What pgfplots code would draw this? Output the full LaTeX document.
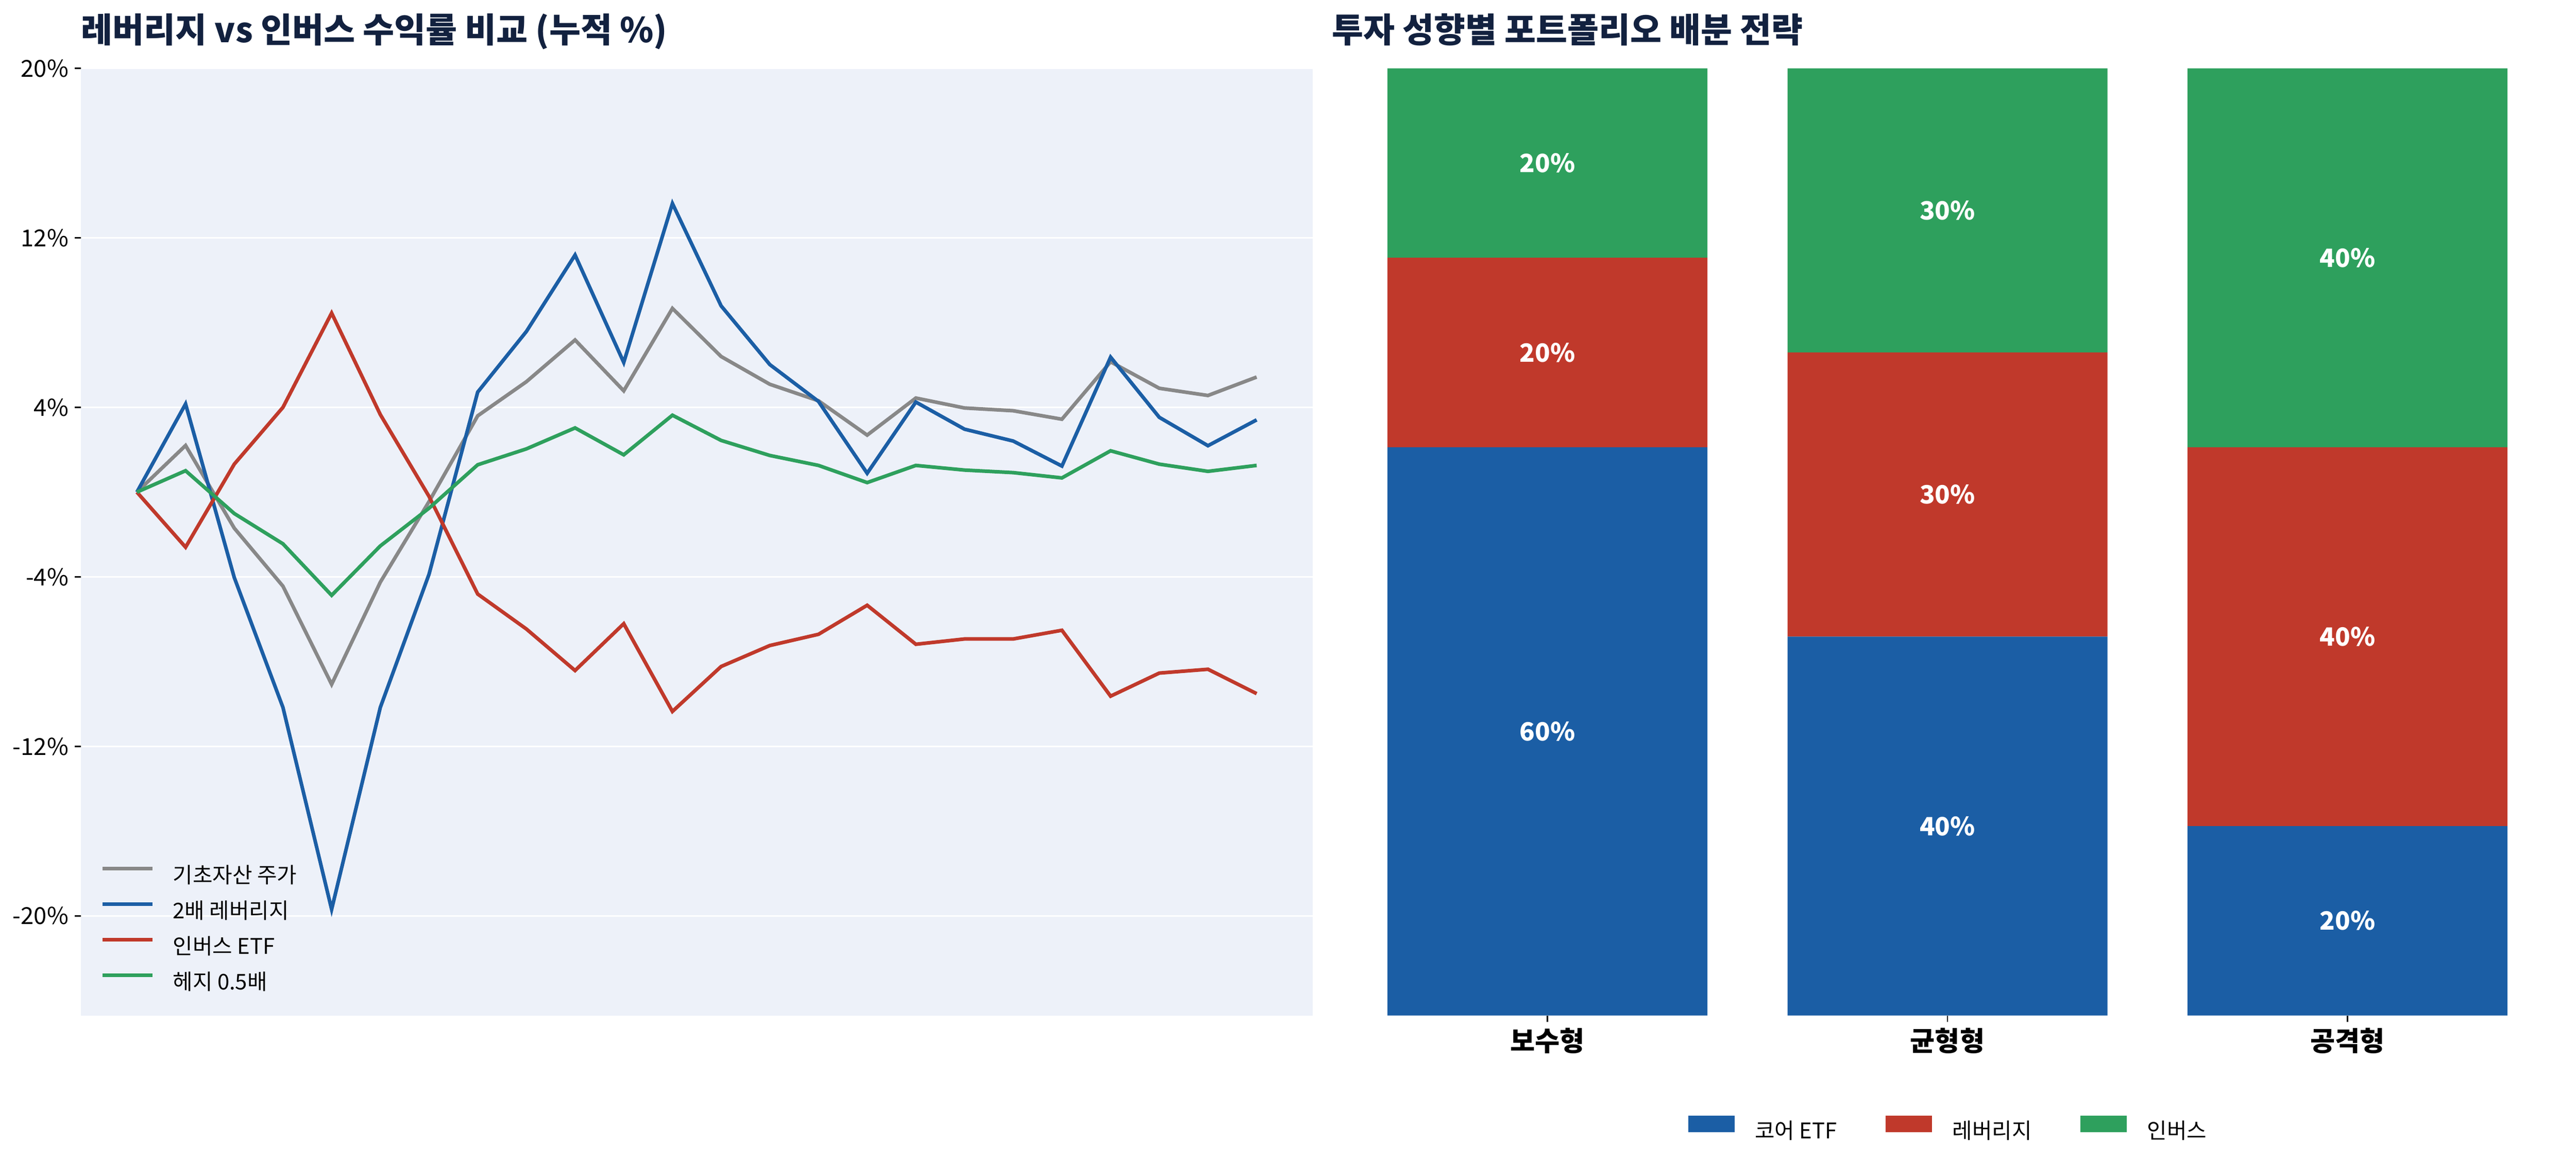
\documentclass[border=0pt]{standalone}
\usepackage{fontspec}
\setmainfont{Noto Sans CJK JP}
\usepackage{pgfplots}
\pgfplotsset{compat=1.18}
\definecolor{cgray}{HTML}{888888}
\definecolor{cblue}{HTML}{1B5EA5}
\definecolor{cred}{HTML}{C0392B}
\definecolor{cgreen}{HTML}{2EA05D}
\definecolor{bgc}{HTML}{EDF1F9}
\definecolor{titlec}{HTML}{12213F}
\pgfplotstableread{
x gray blue red green
0 0 0 0 0
1 2.2 4.16 -2.6 1.01
2 -1.7 -4.03 1.32 -1.01
3 -4.44 -10.16 4.0 -2.44
4 -9.07 -19.69 8.45 -4.87
5 -4.25 -10.16 3.66 -2.54
6 -0.45 -3.88 -0.2 -0.76
7 3.6 4.72 -4.81 1.29
8 5.21 7.58 -6.46 2.04
9 7.18 11.19 -8.42 3.03
10 4.78 6.12 -6.21 1.76
11 8.67 13.62 -10.35 3.63
12 6.4 8.79 -8.23 2.44
13 5.09 6.02 -7.24 1.73
14 4.31 4.28 -6.71 1.26
15 2.69 0.89 -5.34 0.45
16 4.44 4.25 -7.18 1.26
17 3.97 2.97 -6.93 1.04
18 3.84 2.41 -6.93 0.92
19 3.44 1.23 -6.52 0.67
20 6.15 6.37 -9.63 1.95
21 4.90 3.53 -8.54 1.32
22 4.56 2.19 -8.36 0.98
23 5.43 3.41 -9.51 1.26
}\linedata
\begin{document}
\begin{tikzpicture}
\path[use as bounding box] (0,0) rectangle (1432.8pt,644.9pt);
\begin{axis}[
  at={(45.0pt,80.2pt)}, anchor=south west, scale only axis,
  width=685.1pt, height=526.7pt,
  xmin=-1.15, xmax=24.15, ymin=-24.7, ymax=20,
  axis line style={draw=none},
  axis background/.style={fill=bgc},
  xtick=\empty,
  ytick={-20,-12,-4,4,12,20},
  yticklabels={-20\%,-12\%,-4\%,4\%,12\%,20\%},
  ytick pos=left, tick align=outside,
  major tick length=3.4pt,
  tick style={black, line width=0.8pt},
  yticklabel style={font=\fontsize{13}{15}\selectfont},
  ymajorgrids, grid style={white, line width=1pt},
  title={레버리지 vs 인버스 수익률 비교 (누적 \%)},
  title style={at={(0,1)}, anchor=base west, yshift=8.4pt, inner sep=0pt, font=\fontsize{19}{22}\selectfont\bfseries, text=titlec},
  legend style={at={(0,0)}, anchor=south west, xshift=10.9pt, yshift=11.7pt, inner sep=0pt, draw=none, fill=none, font=\fontsize{12}{14}\selectfont, row sep=7.75pt, column sep=0pt, nodes={inner sep=0pt, text height=9.5pt, text depth=2.5pt}, /tikz/every odd column/.append style={column sep=10.3pt}},
  legend cell align=left,
  legend image code/.code={\draw[#1, line width=2pt] (0pt,4.6pt) -- (27.8pt,4.6pt);},
]
\addplot[cgray, line width=2pt] table[x=x, y=gray] {\linedata};
\addlegendentry{기초자산 주가}
\addplot[cblue, line width=2pt] table[x=x, y=blue] {\linedata};
\addlegendentry{2배 레버리지}
\addplot[cred, line width=2pt] table[x=x, y=red] {\linedata};
\addlegendentry{인버스 ETF}
\addplot[cgreen, line width=2pt] table[x=x, y=green] {\linedata};
\addlegendentry{헤지 0.5배}
\end{axis}
\begin{axis}[
  at={(740.6pt,80.2pt)}, anchor=south west, scale only axis,
  width=685.2pt, height=526.7pt,
  xmin=-0.54, xmax=2.54, ymin=0, ymax=100,
  ybar stacked, bar width=0.8,
  legend image code/.code={\fill[#1] (0pt,0.15pt) rectangle (25.9pt,9.25pt);},
  axis line style={draw=none},
  ytick=\empty, xtick={0,1,2}, xticklabels={보수형,균형형,공격형},
  xtick pos=bottom, tick align=outside, major tick length=3.5pt,
  tick style={black, line width=0.8pt},
  xticklabel style={font=\fontsize{15}{17}\selectfont\bfseries},
  title={투자 성향별 포트폴리오 배분 전략},
  title style={at={(0,1)}, anchor=base west, yshift=8.4pt, inner sep=0pt, font=\fontsize{19}{22}\selectfont\bfseries, text=titlec},
  legend columns=3,
  legend style={at={(0.5,0)}, anchor=center, yshift=-63.3pt, inner sep=0pt, draw=none, fill=none, font=\fontsize{12}{14}\selectfont, column sep=0pt, nodes={inner sep=0pt, text height=9.5pt, text depth=2.5pt}, /tikz/every odd column/.append style={column sep=11.3pt}, /tikz/every even column/.append style={column sep=27pt}},
]
\addplot[fill=cblue, draw=none] coordinates {(0,60) (1,40) (2,20)};
\addlegendentry{코어 ETF}
\addplot[fill=cred, draw=none] coordinates {(0,20) (1,30) (2,40)};
\addlegendentry{레버리지}
\addplot[fill=cgreen, draw=none] coordinates {(0,20) (1,30) (2,40)};
\addlegendentry{인버스}
\end{axis}
\begin{axis}[
  at={(740.6pt,80.2pt)}, anchor=south west, scale only axis,
  width=685.2pt, height=526.7pt,
  xmin=-0.54, xmax=2.54, ymin=0, ymax=100, hide axis,
]
\addplot[draw=none, point meta=explicit symbolic, nodes near coords={\pgfplotspointmeta},
  every node near coord/.style={anchor=center, text=white, font=\fontsize{14}{16}\selectfont\bfseries}]
  coordinates {(0,30)[60\%] (1,20)[40\%] (2,10)[20\%] (0,70)[20\%] (1,55)[30\%] (2,40)[40\%] (0,90)[20\%] (1,85)[30\%] (2,80)[40\%]};
\end{axis}
\end{tikzpicture}
\end{document}
